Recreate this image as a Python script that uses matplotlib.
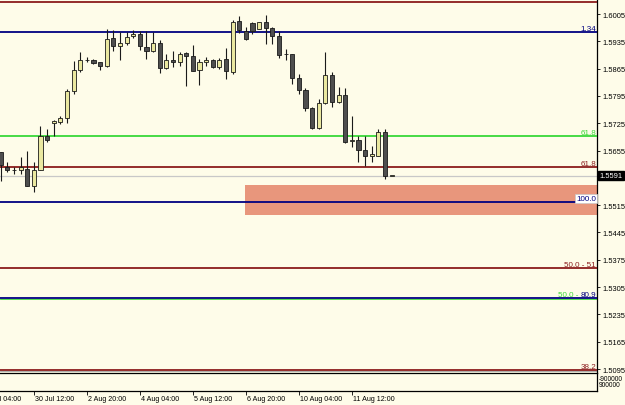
import matplotlib
matplotlib.use("Agg")
import matplotlib.pyplot as plt
import matplotlib.transforms as mtransforms
from matplotlib.patches import Rectangle

# ---------------- data ----------------
opens = [1.5651, 1.5613, 1.5606, 1.5605, 1.5608, 1.5564, 1.5604, 1.5692, 1.5726, 1.5728,
         1.5739, 1.5808, 1.5862, 1.5887, 1.5887, 1.5882, 1.5872, 1.5944, 1.5923, 1.5931,
         1.5949, 1.5954, 1.5921, 1.5910, 1.5931, 1.5867, 1.5887, 1.5882, 1.5905, 1.5897,
         1.5862, 1.5882, 1.5886, 1.5869, 1.5890, 1.5856, 1.5987, 1.5962, 1.5982, 1.5967,
         1.5985, 1.5969, 1.5949, 1.5903, 1.5903, 1.5841, 1.5810, 1.5764, 1.5713, 1.5777,
         1.5849, 1.5780, 1.5797, 1.5680, 1.5682, 1.5656, 1.5641, 1.5642, 1.5703, 1.5591]
highs = [1.5652, 1.5626, 1.5613, 1.5638, 1.5654, 1.5626, 1.5718, 1.5710, 1.5733, 1.5744,
         1.5813, 1.5885, 1.5908, 1.5895, 1.5890, 1.5882, 1.5967, 1.5964, 1.5959, 1.5959,
         1.5964, 1.5962, 1.5962, 1.5959, 1.5938, 1.5903, 1.5910, 1.5908, 1.5908, 1.5926,
         1.5890, 1.5896, 1.5890, 1.5892, 1.5918, 1.5990, 1.6000, 1.5972, 1.5985, 1.5985,
         1.6003, 1.5972, 1.5962, 1.5915, 1.5903, 1.5851, 1.5815, 1.5767, 1.5787, 1.5908,
         1.5856, 1.5818, 1.5815, 1.5744, 1.5692, 1.5692, 1.5667, 1.5710, 1.5710, 1.5591]
lows = [1.5577, 1.5600, 1.5595, 1.5595, 1.5564, 1.5549, 1.5604, 1.5677, 1.5692, 1.5723,
        1.5726, 1.5800, 1.5856, 1.5882, 1.5877, 1.5862, 1.5869, 1.5910, 1.5887, 1.5926,
        1.5944, 1.5913, 1.5890, 1.5908, 1.5854, 1.5864, 1.5869, 1.5872, 1.5821, 1.5859,
        1.5823, 1.5872, 1.5867, 1.5864, 1.5838, 1.5851, 1.5956, 1.5938, 1.5954, 1.5967,
        1.5928, 1.5928, 1.5892, 1.5887, 1.5826, 1.5800, 1.5756, 1.5710, 1.5710, 1.5774,
        1.5767, 1.5777, 1.5674, 1.5664, 1.5626, 1.5615, 1.5626, 1.5641, 1.5582, 1.5591]
closes = [1.5618, 1.5605, 1.5605, 1.5613, 1.5564, 1.5605, 1.5692, 1.5682, 1.5730, 1.5739,
          1.5808, 1.5862, 1.5887, 1.5886, 1.5879, 1.5872, 1.5941, 1.5923, 1.5931, 1.5946,
          1.5954, 1.5923, 1.5910, 1.5931, 1.5867, 1.5887, 1.5882, 1.5903, 1.5897, 1.5859,
          1.5882, 1.5887, 1.5869, 1.5887, 1.5859, 1.5985, 1.5964, 1.5941, 1.5962, 1.5985,
          1.5969, 1.5949, 1.5900, 1.5902, 1.5841, 1.5810, 1.5764, 1.5713, 1.5777, 1.5849,
          1.5780, 1.5797, 1.5677, 1.5682, 1.5656, 1.5641, 1.5646, 1.5703, 1.5590, 1.5591]

# time labels (candle index, text)
time_tick_idx = [-3, 5, 13, 21, 29, 37, 45, 53]
time_tick_labels = ["29 Jul 04:00", "30 Jul 12:00", "2 Aug 20:00", "4 Aug 04:00",
                    "5 Aug 12:00", "6 Aug 20:00", "10 Aug 04:00", "11 Aug 12:00"]

price_ticks = [1.6005, 1.5935, 1.5865, 1.5795, 1.5725, 1.5655, 1.5585, 1.5515,
               1.5445, 1.5375, 1.5305, 1.5235, 1.5165, 1.5095]
last_price = 1.5591

# horizontal levels: price, colour key, label
level_prices = [1.6037, 1.5959, 1.5692, 1.5613, 1.5523, 1.5354, 1.5277, 1.5092]
level_kinds = ["red", "navy", "green", "red", "navy", "red", "navy", "red"]
level_labels = ["88.3", "1.34", "61.8", "61.8", "100.0", "50.0 - 51", "80.9", "38.2"]

zone_low, zone_high = 1.5491, 1.5567
zone_start = 36.9

# ---------------- style ----------------
bg = "#FEFCE9"
cols = {"red": "#8B1C1C", "navy": "#000080", "green": "#38D838"}
bull_fill = "#EAE8A0"
bear_fill = "#4E4E4E"
plt.rcParams["font.family"] = ["Liberation Sans", "DejaVu Sans"]

W, H = 625, 406
fig = plt.figure(figsize=(W / 100, H / 100), dpi=100, facecolor=bg)
ax = fig.add_axes([0, 32 / H, 597 / W, 374 / H])
sub = fig.add_axes([0, 14 / H, 597 / W, 18 / H], sharex=ax)
for a in (ax, sub):
    a.set_facecolor(bg)

step = 6.625
xmin = -0.7 / step
xmax = (597 - 0.7) / step
ax.set_xlim(xmin, xmax)
ax.set_ylim(1.60435 - 374 * 0.00025634, 1.60435)

# zone
ax.add_patch(Rectangle((zone_start, zone_low), xmax - zone_start, zone_high - zone_low,
                       facecolor="#E8967C", edgecolor="none", zorder=1))

# bid line
ax.axhline(last_price, color="#C8C8C8", lw=0.9, zorder=2)

# levels
for p, k, lab in zip(level_prices, level_kinds, level_labels):
    ax.axhline(p, color=cols[k], lw=1.3, zorder=3)
# thin green line under 80.9 level
ax.axhline(level_prices[6] - 0.00018, color=cols["green"], lw=0.6, zorder=2)
# gray line under 38.2 level
ax.axhline(level_prices[7] - 0.0003, color="#A0A0A0", lw=0.6, zorder=2)

# candles
n = len(opens)
xs = list(range(n))
for i in xs:
    o, h, l, c = opens[i], highs[i], lows[i], closes[i]
    ax.vlines(i, l, h, color="#1A1A1A", lw=0.8, zorder=4)
    bottom = min(o, c)
    height = max(abs(c - o), 0.00003)
    fc = bull_fill if c >= o else bear_fill
    ax.bar(i, height, bottom=bottom, width=0.62, facecolor=fc, edgecolor="#1A1A1A",
           linewidth=0.6, zorder=5)

# level labels
fs = 5.8
lbl_x = 596 / 597
for p, k, lab in zip(level_prices, level_kinds, level_labels):
    kw = dict(transform=mtransforms.blended_transform_factory(ax.transAxes, ax.transData),
              ha="right", va="bottom", fontsize=fs, color=cols[k], zorder=6)
    if lab == "100.0":
        ax.text(lbl_x, p + 0.0001, lab, bbox=dict(boxstyle="square,pad=0.12", fc="white",
                ec="#C8C8C8", lw=0.5), **kw)
    elif lab == "80.9":
        t = ax.text(lbl_x, p + 0.00008, lab, **kw)
        fig.canvas.draw()
        wpx = t.get_window_extent().width
        ax.annotate("50.0 - ", xy=(lbl_x, p + 0.00008), xycoords=kw["transform"],
                    xytext=(-wpx, 0), textcoords="offset pixels", ha="right", va="bottom",
                    fontsize=fs, color=cols["green"], zorder=6)
    else:
        ax.text(lbl_x, p + 0.00008, lab, clip_on=True, **kw)

# y axis (right)
for s in ("top", "left", "bottom"):
    ax.spines[s].set_visible(False)
ax.spines["right"].set_color("black")
ax.spines["right"].set_linewidth(0.9)
ax.yaxis.tick_right()
ax.set_yticks(price_ticks)
# the label nearest the current price is hidden behind the price box
ax.set_yticklabels(["" if abs(v - last_price) < 0.001 else f"{v:.4f}" for v in price_ticks],
                   fontsize=5.4)
ax.tick_params(axis="y", direction="out", length=2.5, width=0.6, pad=1.2, colors="black")
ax.tick_params(axis="x", bottom=False, labelbottom=False)

# current price box
ax.text(1.004, last_price, f"{last_price:.4f}",
        transform=mtransforms.blended_transform_factory(ax.transAxes, ax.transData),
        ha="left", va="center", fontsize=5.4, color="white", clip_on=False, zorder=10,
        bbox=dict(boxstyle="square,pad=0.15", fc="black", ec="black"))

# sub window
sub.set_ylim(0, 1)
sub.set_yticks([])
sub.spines["left"].set_visible(False)
for s in ("top", "right", "bottom"):
    sub.spines[s].set_color("black")
    sub.spines[s].set_linewidth(0.9)
sub.text(1.003, 0.72, "-900000", transform=sub.transAxes, fontsize=4.8, ha="left",
         va="center", clip_on=False)
sub.text(1.003, 0.35, "900000", transform=sub.transAxes, fontsize=4.8, ha="left",
         va="center", clip_on=False)

vis = [t for t in time_tick_idx if xmin <= t <= xmax]
sub.set_xticks(vis)
sub.set_xticklabels([])
sub.tick_params(axis="x", direction="out", length=3, width=0.6, colors="black")
tr = mtransforms.blended_transform_factory(sub.transData, sub.transAxes)
for t, lab in zip(time_tick_idx, time_tick_labels):
    sub.annotate(lab, xy=(t, 0), xycoords=tr, xytext=(1.5, -4), textcoords="offset pixels",
                 ha="left", va="top", fontsize=5.1, annotation_clip=False)

fig.savefig("out.png", dpi=100, facecolor=bg)
